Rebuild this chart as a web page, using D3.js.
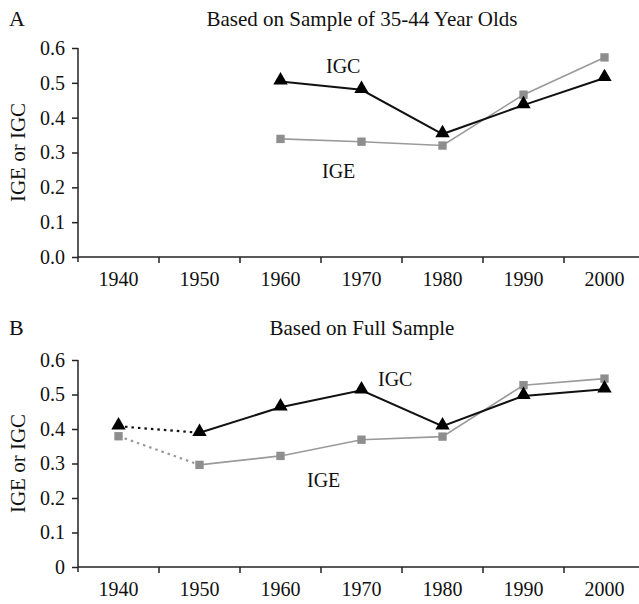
<!DOCTYPE html>
<html>
<head>
<meta charset="utf-8">
<script src="https://cdn.jsdelivr.net/npm/d3@7"></script>
<style>
  body { margin: 0; background: #fff; }
  text { font-family: "Liberation Serif", "DejaVu Serif", serif; fill: #111; }
</style>
</head>
<body>
<div id="chart"></div>
<script>
// data
var years = ["1940", "1950", "1960", "1970", "1980", "1990", "2000"]
var yTicks = [0, 0.1, 0.2, 0.3, 0.4, 0.5, 0.6]

// panel A: sample of 35-44 year olds
var igcA = [null, null, 0.504, 0.480, 0.353, 0.436, 0.514]
var igeA = [null, null, 0.339, 0.331, 0.320, 0.466, 0.573]

// panel B: full sample
var igcB = [0.408, 0.389, 0.463, 0.512, 0.408, 0.496, 0.515]
var igeB = [0.379, 0.296, 0.322, 0.369, 0.378, 0.527, 0.546]

var width = 639
    height = 604

var svg = d3.select("#chart")
  .append("svg")
    .attr("width", width)
    .attr("height", height)

var x = d3.scaleBand()
  .domain(years)
  .range([78, 645])

var gray = "#8e8e8e"

function panel(top, bottom, letter, title, titleY, igc, ige, zeroLabel, lbl) {
  var y = d3.scaleLinear().domain([0, 0.6]).range([bottom, top])
  var g = svg.append("g")

  // panel letter and title
  g.append("text").attr("x", 9).attr("y", titleY).style("font-size", "22px").text(letter)
  g.append("text").attr("x", 362).attr("y", titleY).attr("text-anchor", "middle")
    .style("font-size", "21px").text(title)

  // y axis
  var yAxis = g.append("g")
    .attr("transform", "translate(78,0)")
    .call(d3.axisLeft(y).tickValues(yTicks).tickSize(6).tickPadding(7)
      .tickFormat(function(d) { return d === 0 ? zeroLabel : d3.format(".1f")(d) }))
  yAxis.select(".domain").attr("d", "M0," + (bottom + 5) + "V" + top)

  // x axis, ticks sit between the categories
  var xAxis = g.append("g").attr("transform", "translate(0," + bottom + ")")
  xAxis.append("line").attr("x1", 78).attr("x2", width).attr("stroke", "#222").attr("stroke-width", 1.5)
  xAxis.selectAll("line.tk")
    .data(years.slice(1))
    .enter()
    .append("line")
      .attr("x1", function(d) { return x(d) }).attr("x2", function(d) { return x(d) })
      .attr("y1", 0).attr("y2", 6)
      .attr("stroke", "#222").attr("stroke-width", 1.5)
  xAxis.selectAll("text")
    .data(years)
    .enter()
    .append("text")
      .attr("x", function(d) { return x(d) + x.bandwidth() / 2 })
      .attr("y", 29)
      .attr("text-anchor", "middle")
      .style("font-size", "20px")
      .text(function(d) { return d })

  yAxis.selectAll("path, line").attr("stroke", "#222").attr("stroke-width", 1.5)
  yAxis.selectAll("text").style("font-size", "20px").attr("fill", "#111")
    .style("font-family", "'Liberation Serif', serif")

  function cx(i) { return x(years[i]) + x.bandwidth() / 2 }

  var series = [
    {vals: ige, color: gray, line: "#9a9a9a", w: 1.6, shape: d3.symbolSquare, size: 70},
    {vals: igc, color: "#000", line: "#111", w: 2, shape: d3.symbolTriangle, size: 90}
  ]
  series.forEach(function(s) {
    var pts = []
    s.vals.forEach(function(v, i) { if (v != null) pts.push([cx(i), y(v), i]) })
    var solid = pts.filter(function(p) { return p[2] >= 1 })
    var line = d3.line()
    if (pts.length && pts[0][2] === 0) {
      g.append("path").attr("d", line(pts.slice(0, 2)))
        .attr("fill", "none").attr("stroke", s.line).attr("stroke-width", 2.2)
        .attr("stroke-dasharray", "2.5,4")
    }
    g.append("path").attr("d", line(solid))
      .attr("fill", "none").attr("stroke", s.line).attr("stroke-width", s.w)
    g.selectAll(null)
      .data(pts)
      .enter()
      .append("path")
        .attr("d", d3.symbol().type(s.shape).size(s.size))
        .attr("transform", function(p) { return "translate(" + p[0] + "," + (p[1] + (s.shape === d3.symbolTriangle ? -1 : 0)) + ")" })
        .attr("fill", s.color)
  })

  // series labels
  g.append("text").attr("x", lbl[0]).attr("y", lbl[1]).style("font-size", "20px").text("IGC")
  g.append("text").attr("x", lbl[2]).attr("y", lbl[3]).style("font-size", "20px").text("IGE")

  g.append("text")
    .attr("transform", "translate(25," + ((top + bottom) / 2) + ") rotate(-90)")
    .attr("text-anchor", "middle")
    .style("font-size", "21px")
    .text("IGE or IGC")
}

panel(48, 257, "A", "Based on Sample of 35-44 Year Olds", 26, igcA, igeA, "0.0", [326, 73, 322, 178])
panel(360, 567, "B", "Based on Full Sample", 335, igcB, igeB, "0", [378, 386, 307, 487])
</script>
</body>
</html>
